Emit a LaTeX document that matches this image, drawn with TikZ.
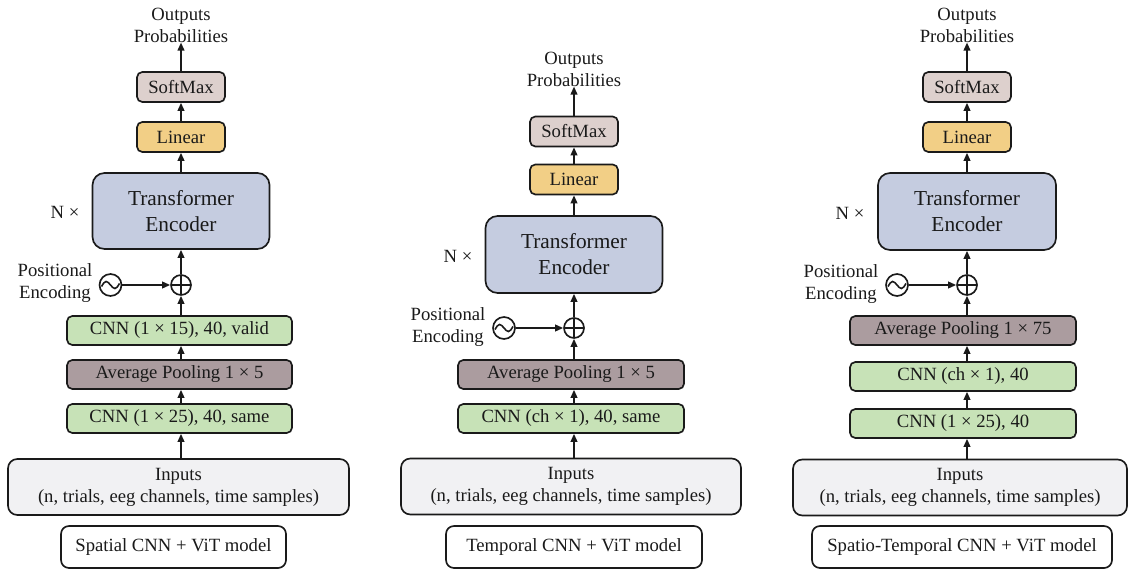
\documentclass[tikz,border=0pt]{standalone}
\usepackage{fontspec}
\setmainfont{Liberation Serif}
\usetikzlibrary{arrows.meta,calc}
\definecolor{cSoft}{HTML}{DDD0CD}
\definecolor{cLin}{HTML}{F2CF86}
\definecolor{cTr}{HTML}{C5CCE0}
\definecolor{cGreen}{HTML}{C7E2B7}
\definecolor{cPool}{HTML}{AB9C9F}
\definecolor{cIn}{HTML}{F1F1F3}
\definecolor{cInk}{HTML}{1A1A1A}
\begin{document}
\begin{tikzpicture}[x=0.75pt,y=-0.75pt,
  every node/.style={text=cInk},
  txt/.style={font=\fontsize{14}{16.5}\selectfont, align=center, inner sep=0pt},
  box/.style={draw=cInk, line width=1.25pt, rounded corners=4pt, inner sep=0pt,
    font=\fontsize{14}{16.5}\selectfont, align=center},
  smbox/.style={box, fill=cSoft, minimum width=88*0.75pt, minimum height=30*0.75pt},
  linbox/.style={box, fill=cLin, minimum width=88*0.75pt, minimum height=30*0.75pt},
  trbox/.style={box, fill=cTr, rounded corners=9pt, minimum width=177*0.75pt, minimum height=76*0.75pt,
    font=\fontsize{16}{19.5}\selectfont},
  cnnbox/.style={box, fill=cGreen, minimum width=225*0.75pt, minimum height=29*0.75pt},
  poolbox/.style={box, fill=cPool, minimum width=225*0.75pt, minimum height=29*0.75pt},
  inbox/.style={box, fill=cIn, rounded corners=7pt, minimum height=56*0.75pt},
  lblbox/.style={box, fill=white, rounded corners=6pt, minimum height=42*0.75pt},
  plus/.style={circle, draw=cInk, line width=1.25pt, minimum size=20*0.75pt, inner sep=0pt,
    path picture={\draw[cInk, line width=1.25pt] (path picture bounding box.north) -- (path picture bounding box.south)
      (path picture bounding box.west) -- (path picture bounding box.east);}},
  sine/.style={circle, draw=cInk, line width=1.25pt, minimum size=22*0.75pt, inner sep=0pt,
    path picture={\draw[cInk, line width=1.2pt, shift={(path picture bounding box.center)}]
      (-9,1.5) sin (-4.5,-3.5) cos (0,0) sin (4.5,3.5) cos (9,-1.5);}},
  arr/.style={draw=cInk, line width=1.25pt, -{Triangle[length=6pt,width=5pt]}}
]
\useasboundingbox (0,0) rectangle (1128,570);

% ---------------- Column 1 ----------------
\node[txt] (out1) at (181,25) {Outputs\\Probabilities};
\node[smbox] (sm1) at (181,87) {SoftMax};
\node[linbox] (lin1) at (181,137) {Linear};
\node[trbox] (tr1) at (181,211) {Transformer\\Encoder};
\node[txt] (n1) at (65,212) {N ×};
\node[plus] (pl1) at (181,285) {};
\node[sine] (si1) at (110.5,285) {};
\node[txt] (pe1) at (55,283) {Positional\\Encoding};
\node[cnnbox] (c15) at (179.5,330.5) {CNN (1 × 15), 40, valid};
\node[poolbox] (po1) at (179.5,374.5) {Average Pooling 1 × 5};
\node[cnnbox] (c25) at (179.5,418.5) {CNN (1 × 25), 40, same};
\node[inbox, minimum width=341*0.75pt] (in1) at (178.5,487) {Inputs\\(n, trials, eeg channels, time samples)};
\node[lblbox, minimum width=225*0.75pt] (lb1) at (173.5,547) {Spatial CNN + ViT model};

\draw[arr] (sm1.north) -- (out1.south);
\draw[arr] (lin1.north) -- (sm1.south);
\draw[arr] (tr1.north) -- (lin1.south);
\draw[arr] (pl1.north) -- (tr1.south);
\draw[arr] (c15.north -| pl1.south) -- (pl1.south);
\draw[arr] (po1.north -| pl1.south) -- (c15.south -| pl1.south);
\draw[arr] (c25.north -| pl1.south) -- (po1.south -| pl1.south);
\draw[arr] (in1.north -| pl1.south) -- (c25.south -| pl1.south);
\draw[arr] (si1.east) -- (pl1.west);

% ---------------- Column 2 ----------------
\node[txt] (out2) at (574,69) {Outputs\\Probabilities};
\node[smbox] (sm2) at (574,131.5) {SoftMax};
\node[linbox] (lin2) at (574,179.5) {Linear};
\node[trbox, minimum height=77*0.75pt] (tr2) at (574,254.5) {Transformer\\Encoder};
\node[txt] (n2) at (458,256) {N ×};
\node[plus] (pl2) at (574,328) {};
\node[sine] (si2) at (504,328) {};
\node[txt] (pe2) at (448,327) {Positional\\Encoding};
\node[poolbox, minimum width=226*0.75pt] (po2) at (571,374.5) {Average Pooling 1 × 5};
\node[cnnbox, minimum width=226*0.75pt] (cc2) at (571,418.5) {CNN (ch × 1), 40, same};
\node[inbox, minimum width=340*0.75pt] (in2) at (571,486.5) {Inputs\\(n, trials, eeg channels, time samples)};
\node[lblbox, minimum width=256*0.75pt] (lb2) at (574,547) {Temporal CNN + ViT model};

\draw[arr] (sm2.north) -- (out2.south);
\draw[arr] (lin2.north) -- (sm2.south);
\draw[arr] (tr2.north) -- (lin2.south);
\draw[arr] (pl2.north) -- (tr2.south);
\draw[arr] (po2.north -| pl2.south) -- (pl2.south);
\draw[arr] (cc2.north -| pl2.south) -- (po2.south -| pl2.south);
\draw[arr] (in2.north -| pl2.south) -- (cc2.south -| pl2.south);
\draw[arr] (si2.east) -- (pl2.west);

% ---------------- Column 3 ----------------
\node[txt] (out3) at (967,25) {Outputs\\Probabilities};
\node[smbox] (sm3) at (967,87) {SoftMax};
\node[linbox] (lin3) at (967,137) {Linear};
\node[trbox, minimum width=178*0.75pt, minimum height=77*0.75pt] (tr3) at (967,211.5) {Transformer\\Encoder};
\node[txt] (n3) at (850,213) {N ×};
\node[plus] (pl3) at (967,285) {};
\node[sine] (si3) at (897,285) {};
\node[txt] (pe3) at (841,284) {Positional\\Encoding};
\node[poolbox, minimum width=226*0.75pt] (po3) at (963,330.5) {Average Pooling 1 × 75};
\node[cnnbox, minimum width=226*0.75pt] (cc3) at (963,376.5) {CNN (ch × 1), 40};
\node[cnnbox, minimum width=226*0.75pt] (c3) at (963,423.5) {CNN (1 × 25), 40};
\node[inbox, minimum width=334*0.75pt] (in3) at (960,487.5) {Inputs\\(n, trials, eeg channels, time samples)};
\node[lblbox, minimum width=300*0.75pt] (lb3) at (962,547) {Spatio-Temporal CNN + ViT model};

\draw[arr] (sm3.north) -- (out3.south);
\draw[arr] (lin3.north) -- (sm3.south);
\draw[arr] (tr3.north) -- (lin3.south);
\draw[arr] (pl3.north) -- (tr3.south);
\draw[arr] (po3.north -| pl3.south) -- (pl3.south);
\draw[arr] (cc3.north -| pl3.south) -- (po3.south -| pl3.south);
\draw[arr] (c3.north -| pl3.south) -- (cc3.south -| pl3.south);
\draw[arr] (in3.north -| pl3.south) -- (c3.south -| pl3.south);
\draw[arr] (si3.east) -- (pl3.west);
\end{tikzpicture}
\end{document}
